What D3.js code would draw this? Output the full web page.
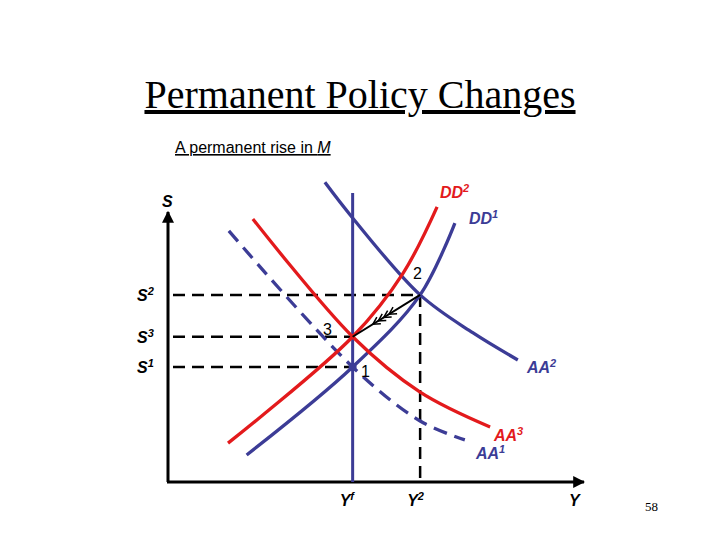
<!DOCTYPE html>
<html><head><meta charset="utf-8">
<script src="https://cdn.jsdelivr.net/npm/d3@7"></script>
<style>body{margin:0;background:#fff}</style></head>
<body><svg width="720" height="540"></svg>
<script>
const blue = '#3c3c96', red = '#e31a1c';

// curves in chart units (0-100 on both axes)
const dd1 = [[19, 10], [44.6, 42.6], [60.9, 69.3], [69.3, 95.9]];
const dd2 = [[14.5, 14.4], [44.6, 53.8], [56.8, 77.4], [65, 101.9]];
const aa1 = [[14.7, 93], [44.6, 42.6], [60.9, 22.6], [71.7, 15.6]];
const aa2 = [[37.9, 111], [44.6, 97.8], [60.9, 69.3], [73.7, 55.2], [84.5, 45.2]];
const aa3 = [[20.5, 97.4], [44.6, 53.8], [60.9, 33.3], [77.8, 20.4]];
const yLevels = [['S', '2', 69.3], ['S', '3', 53.8], ['S', '1', 42.6]];
const xLevels = [['Y', 'f', 44.6], ['Y', '2', 60.9]];
const yfTop = 107;

const svg = d3.select('svg');
const x = d3.scaleLinear().domain([0, 100]).range([168, 582]);
const y = d3.scaleLinear().domain([0, 100]).range([482, 212]);

svg.append('text').attr('x', 360).attr('y', 108).attr('text-anchor', 'middle')
  .attr('font-family', 'Liberation Serif').attr('font-size', 40)
  .attr('text-decoration', 'underline').text('Permanent Policy Changes');
const sub = svg.append('text').attr('x', 175).attr('y', 153)
  .attr('font-family', 'Liberation Sans').attr('font-size', 16)
  .attr('text-decoration', 'underline');
sub.append('tspan').text('A permanent rise in ');
sub.append('tspan').attr('font-style', 'italic').text('M');
svg.append('text').attr('x', 645).attr('y', 511).attr('font-family', 'Liberation Serif')
  .attr('font-size', 13).text('58');

// dashed guides
const dash = svg.append('g').attr('stroke', '#000').attr('stroke-width', 2.5)
  .attr('stroke-dasharray', '12,7').attr('fill', 'none');
dash.append('line').attr('x1', x(0) + 5).attr('x2', x(60.9)).attr('y1', y(69.3)).attr('y2', y(69.3));
dash.append('line').attr('x1', x(0) + 5).attr('x2', x(44.6)).attr('y1', y(53.8)).attr('y2', y(53.8));
dash.append('line').attr('x1', x(0) + 5).attr('x2', x(44.6)).attr('y1', y(42.6)).attr('y2', y(42.6));
dash.append('line').attr('x1', x(60.9)).attr('x2', x(60.9)).attr('y1', y(69.3)).attr('y2', y(0));

// axes
svg.append('defs').append('marker').attr('id', 'ah').attr('viewBox', '0 0 10 10')
  .attr('refX', 9).attr('refY', 5).attr('markerWidth', 4).attr('markerHeight', 4)
  .attr('orient', 'auto').append('path').attr('d', 'M0,0L10,5L0,10z');
svg.append('line').attr('x1', x(0)).attr('y1', y(0)).attr('x2', x(0)).attr('y2', 212)
  .attr('stroke', '#000').attr('stroke-width', 3).attr('marker-end', 'url(#ah)');
svg.append('line').attr('x1', x(0) - 1).attr('y1', y(0)).attr('x2', 584).attr('y2', y(0))
  .attr('stroke', '#000').attr('stroke-width', 3).attr('marker-end', 'url(#ah)');

// Yf line
svg.append('line').attr('x1', x(44.6)).attr('x2', x(44.6)).attr('y1', y(yfTop)).attr('y2', y(0))
  .attr('stroke', blue).attr('stroke-width', 3);

const line = d3.line().x(d => x(d[0])).y(d => y(d[1])).curve(d3.curveCatmullRom);
const curve = (data, color, dashed) => svg.append('path').datum(data).attr('d', line)
  .attr('fill', 'none').attr('stroke', color).attr('stroke-width', 3.3)
  .attr('stroke-dasharray', dashed ? '14,8' : null);
curve(aa1, blue, true);
curve(aa2, blue);
curve(dd1, blue);
curve(aa3, red);
curve(dd2, red);

// arrow 2 -> 3
svg.append('line').attr('x1', x(60.9)).attr('y1', y(69.3)).attr('x2', x(44.6)).attr('y2', y(53.8))
  .attr('stroke', '#000').attr('stroke-width', 2);
const ang = Math.atan2(y(53.8) - y(69.3), x(44.6) - x(60.9));
[0.3, 0.38, 0.46, 0.54].forEach(t => {
  const px = x(44.6) + (x(60.9) - x(44.6)) * t, py = y(53.8) + (y(69.3) - y(53.8)) * t;
  const a1 = ang + Math.PI - 0.5, a2 = ang + Math.PI + 0.5;
  svg.append('path').attr('d', `M${px + 8 * Math.cos(a1)},${py + 8 * Math.sin(a1)}L${px},${py}L${px + 8 * Math.cos(a2)},${py + 8 * Math.sin(a2)}`)
    .attr('fill', 'none').attr('stroke', '#000').attr('stroke-width', 1.5);
});
svg.append('circle').attr('cx', x(44.6)).attr('cy', y(42.6)).attr('r', 4).attr('fill', blue);

// labels
const lab = (tx, ty, main, sup, color, anchor) => {
  const t = svg.append('text').attr('x', tx).attr('y', ty).attr('fill', color || '#000')
    .attr('font-family', 'Liberation Sans').attr('font-size', 16).attr('font-weight', 'bold')
    .attr('font-style', 'italic').attr('text-anchor', anchor || 'start');
  t.append('tspan').text(main);
  if (sup) t.append('tspan').attr('dy', -6).attr('font-size', 11).text(sup);
};
lab(162, 207, 'S');
yLevels.forEach(d => lab(137, y(d[2]) + 6, d[0], d[1]));
xLevels.forEach(d => lab(x(d[2]) - 13, 506, d[0], d[1]));
lab(569, 506, 'Y');
lab(440, 198, 'DD', '2', red);
lab(469, 224, 'DD', '1', blue);
lab(527, 373, 'AA', '2', blue);
lab(494, 441, 'AA', '3', red);
lab(476, 459, 'AA', '1', blue);
const num = (tx, ty, s) => svg.append('text').attr('x', tx).attr('y', ty)
  .attr('font-family', 'Liberation Sans').attr('font-size', 16).text(s);
num(413, 279, '2');
num(323, 335, '3');
num(361, 377, '1');
</script></body></html>
